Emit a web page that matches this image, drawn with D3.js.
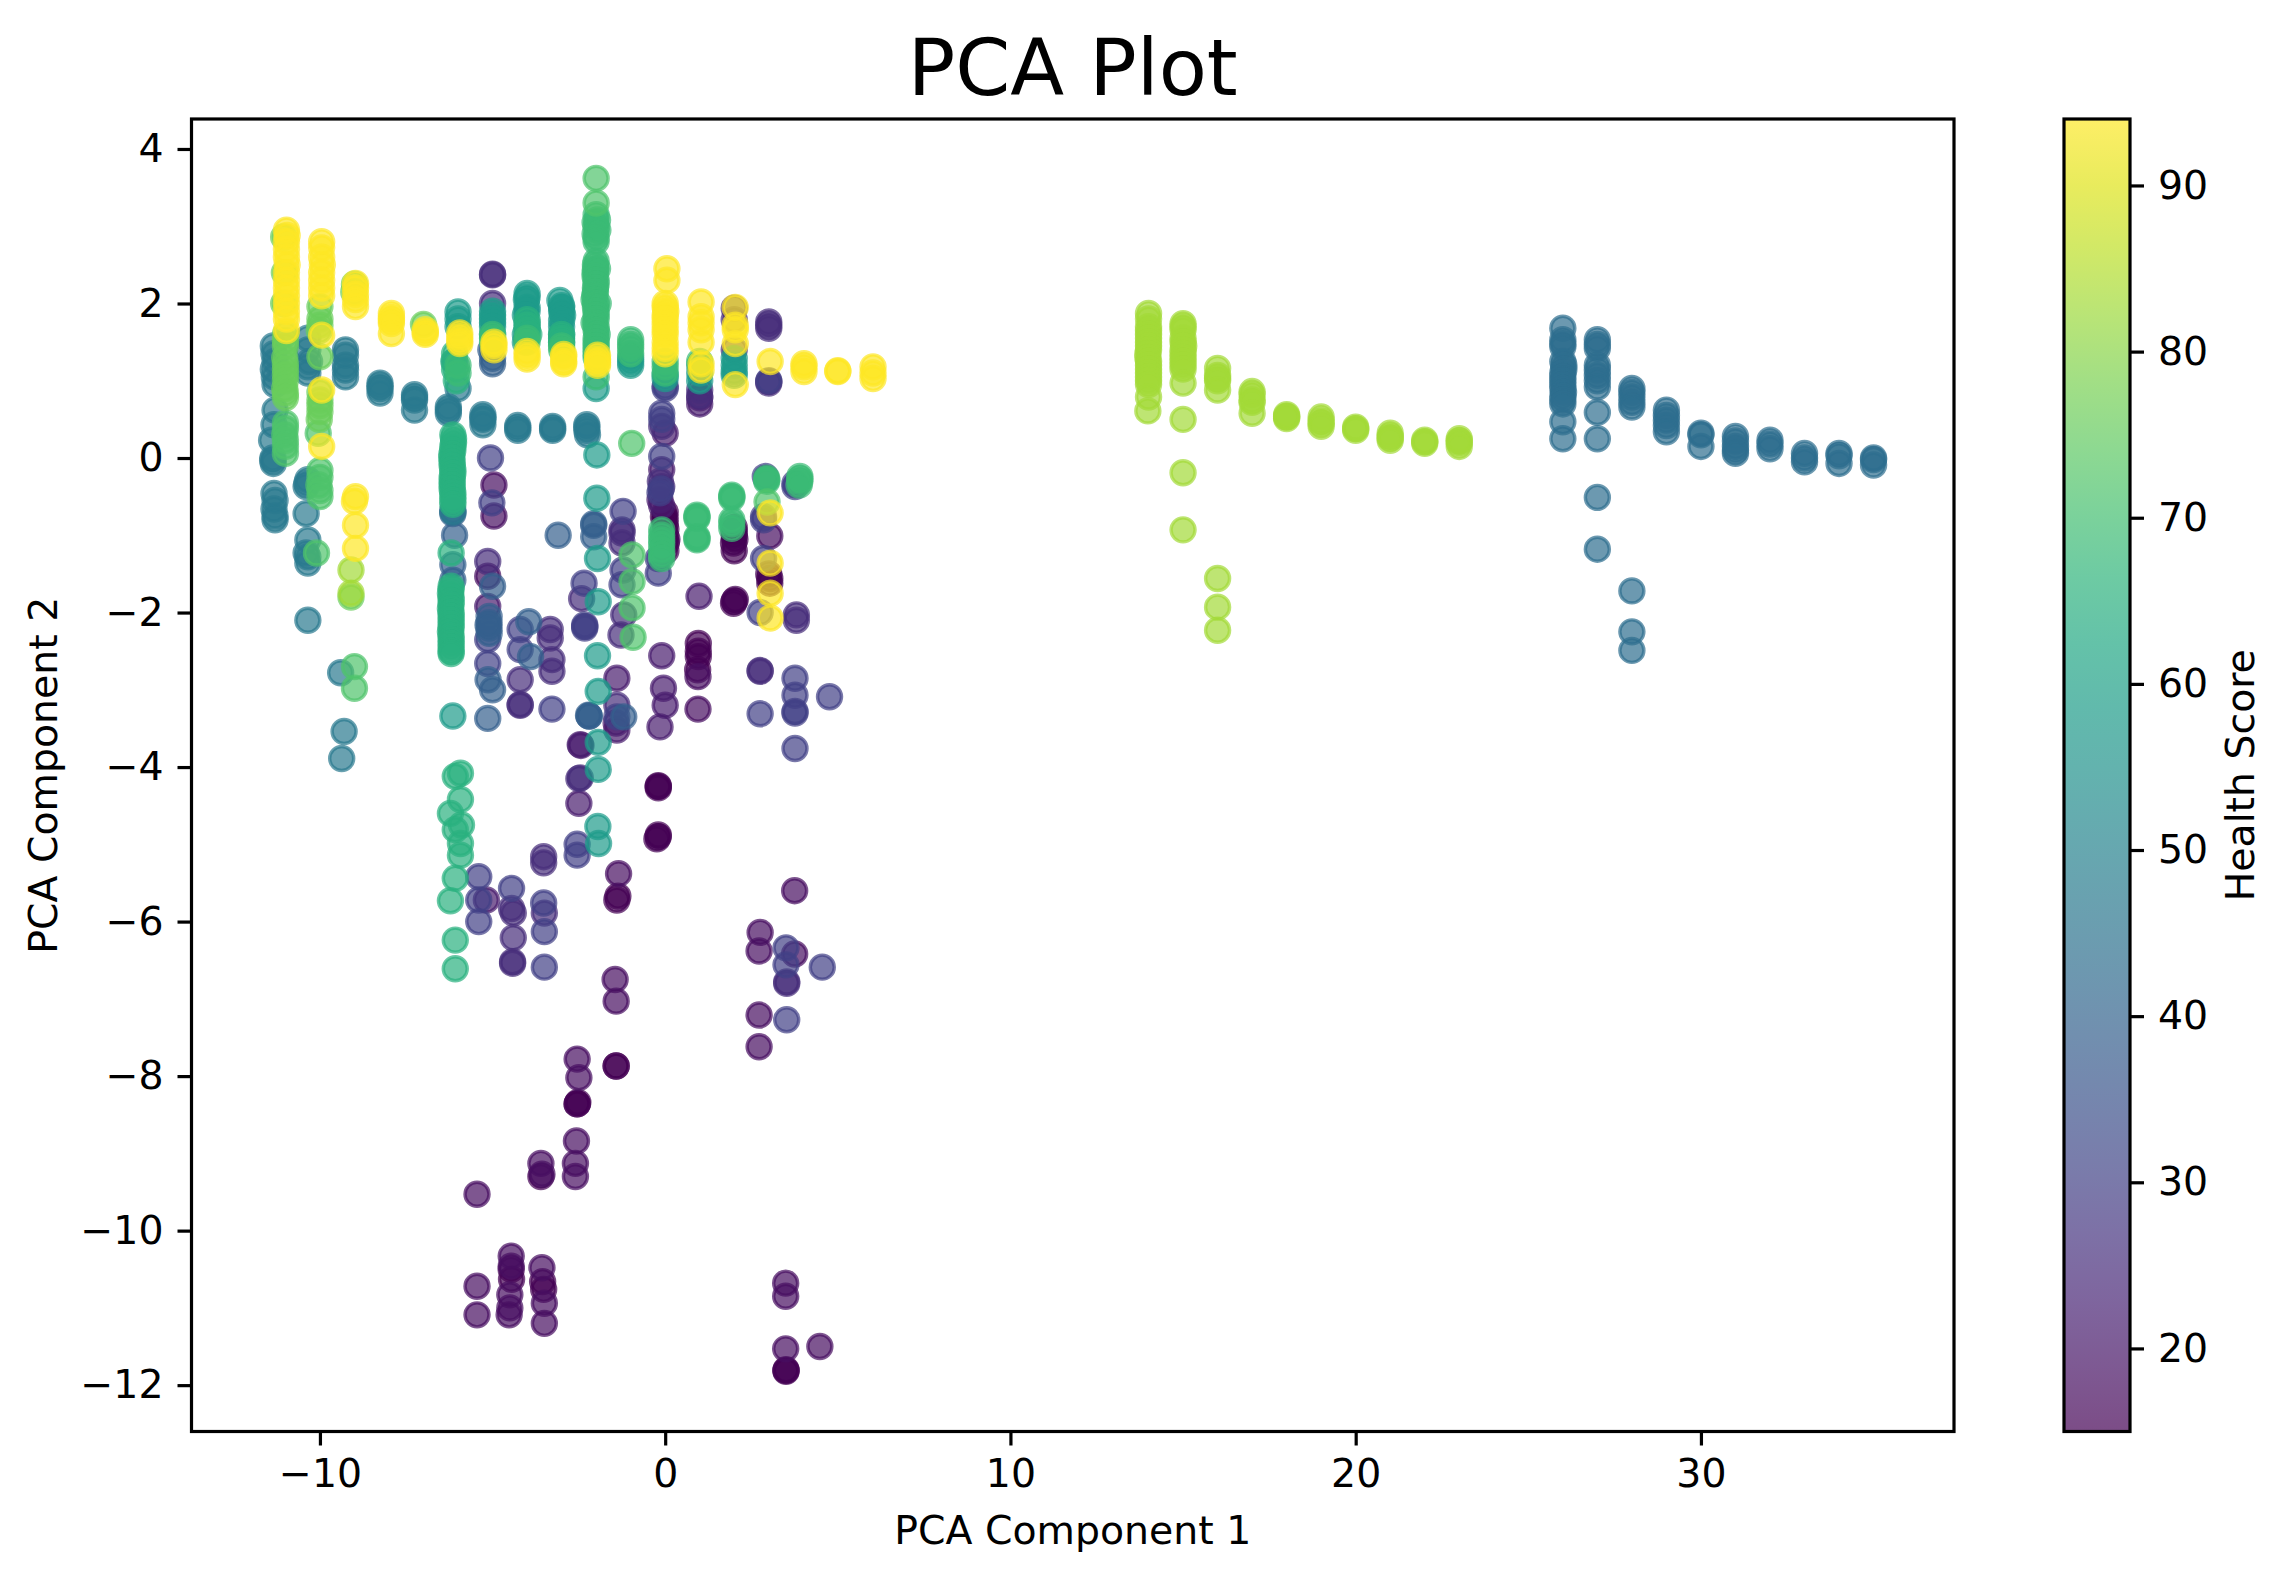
<!DOCTYPE html>
<html>
<head>
<meta charset="utf-8">
<script src="https://cdn.jsdelivr.net/npm/d3@7"></script>
<style>
  body { margin: 0; background: #fff; }
  text { font-family: "DejaVu Sans", sans-serif; fill: #000; }
</style>
</head>
<body>
<div id="chart"></div>
<script>
// points, one array per health score level, [pc1, pc2]
const pts15 = [[-0.2,-4.27],[-0.2,-4.25],[-0.2,-4.24],[-0.2,-4.88],[-0.24,-4.93],[-0.2,-4.9],[-0.05,-0.76],[0,-0.7],[0,-0.78],[0,-0.85],[0.02,-0.92],[0,-1],[0.03,-1.1],[0.02,-1.2],[0.05,-1.05],[2,-0.9],[2,-0.95],[2,-1],[1.98,-1.1],[2.02,-1.05],[2,-1.2],[3.03,-1.56],[3.03,-1.62],[3,-1.5],[2,-1.85],[2.03,-1.83],[1.98,-1.88],[0.96,-2.4],[0.96,-2.5],[0.96,-2.57],[0.94,-2.74],[-1.37,-5.67],[-1.4,-5.72],[-1.42,-7.87],[-1.42,-7.87],[-2.55,-8.36],[-2.55,-8.36],[-2.53,-8.34],[3.5,-11.82],[3.5,-11.8],[3.5,-11.81],[-4.46,-10.5],[-4.45,-10.63],[-3.55,-10.66],[-3.52,-10.76],[-3.6,-9.3]];
const pts18 = [[-4.96,-0.35],[-4.96,-0.75],[-5.14,-1.53],[0.95,-2.83],[0.95,-3.25],[3.03,-1.01],[3.75,-5.6],[2.75,-6.14],[2.72,-6.38],[3.75,-6.42],[2.72,-7.21],[2.72,-7.62],[-1.35,-5.38],[-1.45,-6.75],[-1.42,-7.03],[-2.55,-7.78],[-2.5,-8.02],[-2.57,-8.84],[-2.6,-9.13],[-2.6,-9.3],[-3.6,-9.13],[-3.57,-9.27],[-5.45,-9.53],[-5.45,-10.72],[-5.45,-11.09],[-4.46,-10.33],[-4.46,-10.46],[-4.5,-10.83],[-4.5,-11],[-4.52,-11.09],[-3.57,-10.48],[-3.5,-10.94],[-3.5,-11.2],[3.49,-10.68],[3.49,-10.85],[3.49,-11.53],[4.48,-11.5]];
const pts21 = [[-5.18,-5.72],[-5.14,-1.92],[-1.4,-2.85],[-1.4,-3.52],[-1.42,-3.43],[-2.46,-3.71],[-2.44,-3.72],[-2.5,-4.47],[-0.1,-2.56],[-0.05,-2.98],[0,-3.2],[-0.15,-3.48],[0,0.32],[-0.1,-0.15],[-0.15,-0.54],[-0.1,-0.62],[0.98,-1.79],[1,0.7],[1,0.78]];
const pts25 = [[-5.14,-1.34],[-4.2,-2.87],[-4.2,-3.19],[-4.2,-3.2],[-3.33,-2.22],[-3.33,-2.33],[-3.28,-2.61],[-3.28,-2.76],[-2.42,-1.82],[-1.25,-0.93],[-1.25,-0.97],[-1.25,-1.1],[-1.2,-2.03],[-1.28,-2.29],[-1.4,-3.2],[-2.46,-4.14],[-2.5,-4.15],[-4.45,-5.83],[-4.4,-5.89],[-4.4,-6.21],[-4.42,-6.52],[-4.42,-6.54],[-3.52,-5.16],[-3.52,-5.24],[-3.5,-5.89],[3.52,-6.8],[3.52,-6.78],[2.75,-2.75],[2.75,-2.76],[3.8,-2.03],[3.8,-2.1],[-0.1,0.41],[-0.1,-0.37],[-0.14,-0.3],[1,0.8],[1,0.88],[2,1.94],[2,1.79],[2,1.4],[3,1.76],[3,1.68],[3,1.72],[3,0.97],[3,0.99],[-5,2],[-5,2.38],[-5,2.37]];
const pts30 = [[-5.06,0],[-5.02,-0.58],[-5.14,-2.66],[-5.14,-2.35],[-4.2,-2.22],[-4.2,-2.48],[-3.28,-3.25],[-2.35,-1.62],[-2.33,-2.18],[-2.33,-2.2],[-2.33,-2.16],[-1.22,-0.69],[-1.22,-1.45],[-1.25,-1.64],[-1.4,-3.35],[-2.55,-5],[-2.55,-5.14],[-5.4,-5.42],[-5.4,-5.72],[-5.4,-6],[-4.45,-5.57],[-3.52,-5.76],[-3.5,-6.13],[-3.5,-6.59],[3.5,-6.34],[3.5,-6.56],[4.55,-6.59],[3.52,-7.27],[2.9,-0.24],[2.85,-0.76],[2.85,-0.8],[2.85,-1.3],[2.75,-2],[2.75,-3.31],[3.76,-0.37],[3.76,-0.33],[3.76,-2.85],[3.76,-3.07],[3.76,-3.28],[3.76,-3.3],[4.76,-3.09],[3.76,-3.76],[-0.12,-0.4],[-0.2,-1.49],[0,0.9],[0,0.93],[-0.1,0.58],[-0.1,0.5],[-0.1,0.02],[-0.15,-0.45],[-0.2,-1.3],[3,1]];
const pts39 = [[-3.1,-1],[-2.07,-0.87],[-2.07,-0.85],[-2.07,-1.02],[-5.1,-2.05],[-5.1,-2.13],[-5.1,-2.2],[-5.1,-2.27],[-5.13,-2.16],[-5,-1.66],[-5.13,-2.87],[-5,-3],[-5.14,-3.37],[-3.95,-2.12],[-3.9,-2.57],[-2.2,-3.34],[-2.2,-3.34],[-2.22,-3.33],[-1.2,-3.35],[-6.1,-1],[-6.15,-1.38],[-6.15,-1.58],[-5,1.29],[-5,1.22],[-5.05,1.4],[-6.15,-0.72],[-6.15,-0.68]];
const pts43 = [[26,1.68],[26,1.53],[26,1.48],[26,1.44],[26,1.25],[26.03,1.2],[26.03,1.15],[26,1.1],[26,1.05],[26,1],[26,0.95],[26,0.9],[26.02,0.85],[26,0.8],[26,0.75],[26,0.7],[26,0.47],[26,0.25],[27,1.53],[27,1.47],[27,1.42],[27,1.2],[27,1.14],[27,1.07],[27,1],[27,0.92],[27,0.59],[27,0.25],[27,-0.51],[27,-1.18],[28,0.9],[28,0.85],[28,0.79],[28,0.72],[28,0.66],[28,-1.72],[28,-2.25],[28,-2.49],[29,0.62],[29,0.55],[29,0.49],[29,0.42],[29,0.34],[30,0.32],[30,0.3],[30,0.15],[31,0.28],[31,0.22],[31,0.15],[31,0.1],[31,0.06],[32,0.23],[32,0.18],[32,0.12],[33,0.06],[33,0],[33,-0.05],[34,0.06],[34,0.03],[34,-0.07],[35,0],[35,-0.02],[35,-0.09]];
const pts47 = [[-11.35,1.45],[-11.33,1.35],[-11.3,1.25],[-11.35,1.15],[-11.32,1.05],[-11.3,0.95],[-11.3,0.62],[-11.33,0.43],[-11.4,0.23],[-11.35,-0.07],[-11.37,-0.03],[-11.36,0],[-11.33,-0.46],[-11.3,-0.55],[-11.33,-0.66],[-11.3,-0.75],[-11.3,-0.8],[-10.35,1.55],[-10.35,1.4],[-10.3,1.25],[-10.35,1.1],[-10.35,1.18],[-10.35,-0.28],[-10.4,-0.37],[-10.38,-0.33],[-10.4,-0.72],[-10.35,-1.06],[-10.4,-1.23],[-10.35,-1.36],[-10.35,-1.28],[-10.35,-2.1],[-9.26,1.4],[-9.26,1.33],[-9.26,1.14],[-9.26,1.2],[-9.26,1.05],[-8.26,0.97],[-8.26,0.9],[-8.26,0.93],[-8.26,0.84],[-7.26,0.82],[-7.26,0.78],[-7.26,0.75],[-7.26,0.62],[-6.28,0.62],[-6.28,0.66],[-6.28,0.58],[-5.28,0.56],[-5.28,0.52],[-5.28,0.5],[-5.28,0.43],[-4.27,0.42],[-4.27,0.39],[-4.27,0.36],[-3.26,0.41],[-3.26,0.38],[-3.26,0.36],[-2.27,0.36],[-2.27,0.43],[-2.27,0.4],[-2.25,0.3],[-9.4,-2.78],[-9.3,-3.54],[-9.37,-3.89],[-6,0.9],[-6.15,-0.7],[-6.1,1.25]];
const pts58 = [[-2,0.9],[-1.98,0.04],[-1.98,-0.52],[-1.96,-1.3],[-1.94,-1.86],[-1.96,-2.56],[-1.94,-3.02],[-1.94,-3.68],[-1.94,-4.03],[-1.95,-4.77],[-1.93,-4.99],[0,1.03],[0,1.08],[-1,1.2],[-1,1.25],[-1,1.3],[1,1.2],[1,1],[1,1.1],[2,1.29],[2,1.2],[2,1.07],[2,1.12],[-6.15,-3.34],[-5,1.9],[-5,1.85],[-5,1.8],[-5,1.75],[-5,1.7],[-5,1.6],[-6,1.89],[-6,1.8],[-6,1.7],[-4,2.13],[-4,2.08],[-4.02,2.05],[-4,1.95],[-4,1.9],[-4.05,1.85],[-4,1.75],[-4,1.68],[-4.05,1.6],[-4.05,1.5],[-3.05,2.04],[-3,1.97],[-3,1.95],[-3,1.9],[-2.97,1.85],[-3,1.78],[-3,1.7],[-3,1.6],[-3,1.5]];
const pts65 = [[-6.1,1.35],[-6.12,1.25],[-6.1,1.15],[-6.05,1],[-6.15,0.3],[-6.13,0.25],[-6.13,0.2],[-6.15,0.15],[-6.15,0.1],[-6.18,0.05],[-6.18,0],[-6.17,-0.05],[-6.17,-0.1],[-6.15,-0.15],[-6.15,-0.2],[-6.17,-0.25],[-6.17,-0.3],[-6.17,-0.35],[-6.17,-0.4],[-6.15,-0.45],[-6.15,-0.5],[-6.15,-0.55],[-6.15,-0.6],[-6.2,-1.23],[-6.2,-1.66],[-6.2,-1.7],[-6.22,-1.75],[-6.2,-1.8],[-6.2,-1.85],[-6.2,-1.9],[-6.22,-1.95],[-6.2,-2],[-6.2,-2.05],[-6.2,-2.1],[-6.2,-2.15],[-6.2,-2.2],[-6.22,-2.25],[-6.2,-2.3],[-6.2,-2.35],[-6.2,-2.4],[-6.2,-2.45],[-6.2,-2.5],[-6.2,-2.53],[-4,1.79],[-4,1.72],[-4,1.65],[-3.95,1.6],[-3,1.6],[-3,1.55],[-3,1.5],[-5.93,-4.08],[-6.08,-4.12],[-5.93,-4.42],[-6.22,-4.6],[-5.9,-4.75],[-6.08,-4.81],[-5.93,-4.99],[-5.93,-5.14],[-6.08,-5.44],[-6.22,-5.73],[-6.08,-6.24],[-6.08,-6.61]];
const pts69 = [[-2,3.15],[-2.03,3.05],[-2,3],[-1.96,3.08],[-2.03,2.9],[-2,2.85],[-2,2.8],[-1.95,2.95],[-2,2.55],[-2.02,2.5],[-2.02,2.45],[-2.03,2.4],[-2.03,2.35],[-1.96,2.45],[-2,2.3],[-2,2.25],[-2.02,2.2],[-2.02,2.15],[-2.04,2.1],[-2.06,2.05],[-2.02,2],[-2.02,1.95],[-1.94,2],[-2,1.9],[-2,1.85],[-2,1.8],[-2.06,1.75],[-2,1.7],[-2,1.65],[-1.97,1.6],[-2,1.55],[-2,1.5],[-2,1.45],[-2,1.4],[-2,1.35],[-2,1.3],[-2,1.05],[-1,1.53],[-1,1.47],[-1,1.42],[-1,1.35],[0,1.25],[0,1.18],[0,1.1],[1,1.25],[-0.1,-0.93],[-0.1,-1],[-0.1,-1.06],[-0.1,-1.12],[-0.1,-1.19],[-0.1,-1.25],[-0.1,-1.3],[0.92,-0.74],[0.92,-0.76],[0.92,-0.78],[0.92,-1.06],[0.92,-1.04],[0.92,-1.02],[1.93,-0.5],[1.93,-0.48],[1.93,-0.52],[1.93,-0.8],[1.93,-0.85],[1.93,-0.91],[2.94,-0.26],[2.94,-0.28],[2.94,-0.3],[3.9,-0.24],[3.9,-0.3],[3.9,-0.27],[3.88,-0.35],[-5,1.5],[-5,1.55],[-5,1.6],[-4,1.5],[-4,1.55],[-3,1.45],[-3,1.4],[-6,1.2],[-6,1.1]];
const pts72 = [[-2,3.62],[-2,3.3],[-0.97,0.19],[-0.96,-1.255],[-0.96,-1.6],[-0.96,-1.94],[-0.93,-2.32],[2.95,-0.57],[-9,-2.7],[-9,-2.98],[-11,0.45],[-11,0.38],[-11.02,0.3],[-11,0.23],[-11,0.15],[-11,0.06],[-10,-0.16],[-10,-0.25],[-10.03,-0.35],[-10,-0.42],[-10,-0.5],[-10.05,0.32],[-10.1,-1.23]];
const pts76 = [[-11.05,2.86],[-11.03,2.4],[-11.05,2],[-11,1.6],[-11,1.52],[-11,1.45],[-11.02,1.3],[-11,1.22],[-11,1.15],[-11,1.08],[-11,1],[-11.02,0.9],[-11,0.84],[-11,0.78],[-10,1.96],[-10,1.8],[-10,1.72],[-10.02,1.65],[-10,1.31],[-10,0.85],[-10,0.75],[-10,0.68],[-10,0.6],[-10.02,0.5],[-9,2.25],[-9.02,2.15],[-7,1.73],[-9.1,-1.8]];
const pts83 = [[14,1.87],[14,1.8],[14,1.7],[14,1.65],[14,1.6],[14,1.55],[14,1.5],[14,1.45],[14,1.4],[13.98,1.35],[13.98,1.3],[14,1.25],[14,1.2],[14,1.15],[14,1.1],[14,1.05],[14,1],[14,0.95],[14,0.79],[13.98,0.61],[15,1.74],[15,1.7],[15,1.66],[15,1.55],[15,1.5],[15.02,1.45],[15,1.4],[15,1.35],[15,1.3],[15,1.25],[15,1.2],[15,1.15],[15,0.97],[15,0.5],[15,-0.19],[15,-0.93],[16,1.16],[16,1.07],[16,1.03],[16,1],[16,0.88],[16,-1.56],[16,-1.93],[16,-2.23],[17,0.86],[17,0.82],[17,0.75],[17,0.72],[17,0.58],[18,0.56],[18,0.53],[18,0.51],[18,0.54],[19,0.53],[19,0.48],[19,0.45],[19,0.41],[20,0.38],[20,0.36],[20,0.4],[21,0.32],[21,0.28],[21,0.26],[21,0.23],[22,0.23],[22,0.21],[22,0.19],[23,0.25],[23,0.2],[23,0.22],[23,0.15],[-9.1,-1.45],[-9.1,-1.75]];
const pts94 = [[-10.97,2.95],[-10.95,2.88],[-10.97,2.8],[-10.97,2.7],[-10.97,2.6],[-10.95,2.5],[-10.97,2.4],[-10.97,2.3],[-10.97,2.2],[-10.97,2.1],[-10.97,2],[-10.97,1.9],[-10.97,1.8],[-10.97,1.65],[-9.95,2.8],[-9.95,2.72],[-9.95,2.6],[-9.93,2.5],[-9.95,2.4],[-9.95,2.3],[-9.95,2.2],[-9.95,2.1],[-9.95,1.59],[-9.95,0.88],[-9.95,0.15],[-8.97,2.26],[-8.97,2.2],[-8.97,2.12],[-8.97,2.05],[-8.97,1.96],[-8.97,-0.5],[-9,-0.56],[-8.97,-0.87],[-8.97,-1.17],[-7.93,1.87],[-7.93,1.82],[-7.93,1.78],[-7.93,1.74],[-7.93,1.61],[-6.95,1.66],[-6.95,1.63],[-6.95,1.6],[-5.95,1.62],[-5.95,1.57],[-5.95,1.52],[-5.95,1.48],[-4.96,1.5],[-4.96,1.46],[-4.96,1.4],[-4,1.38],[-4,1.33],[-4,1.28],[-2.94,1.34],[-2.94,1.31],[-2.94,1.25],[-2.94,1.22],[-1.96,1.33],[-1.96,1.28],[-1.96,1.24],[-1.96,1.2],[0.05,2.45],[0.05,2.3],[0,2],[0,1.95],[0.02,1.9],[0,1.85],[0,1.8],[0,1.73],[0,1.66],[0,1.6],[0,1.5],[0,1.42],[0,1.35],[1.04,2.02],[1.04,1.83],[1.04,1.75],[1.04,1.66],[1.04,1.5],[1.04,1.22],[1.04,1.14],[2.03,1.95],[2.03,1.72],[2.03,1.66],[2.03,1.48],[2.03,0.95],[3.04,1.25],[4.02,1.22],[4.02,1.18],[4.02,1.12],[5,1.13],[5,1.12],[6.02,1.18],[6.02,1.1],[6.02,1.03],[3.04,-0.71],[3.04,-1.36],[3.04,-1.75],[3.04,-2.07]];

const scoreLevels = [15, 18, 21, 25, 30, 39, 43, 47, 58, 65, 69, 72, 76, 83, 94];
const pointLevels = [pts15, pts18, pts21, pts25, pts30, pts39, pts43, pts47, pts58, pts65, pts69, pts72, pts76, pts83, pts94];

const xTicks = [-10, 0, 10, 20, 30];
const yTicks = [-12, -10, -8, -6, -4, -2, 0, 2, 4];
const scoreTicks = [20, 30, 40, 50, 60, 70, 80, 90];
const xDomain = [-13.72, 37.33];
const yDomain = [-12.6, 4.388];
const scoreDomain = [15, 94];

const width = 2277, height = 1582;
const plot = { left: 191.5, right: 1954, top: 119, bottom: 1431.5 };
const bar = { left: 2064, right: 2130 };
const fontSize = 39.4, tickLen = 14, lineW = 3.2;

const svg = d3.select("#chart").append("svg")
    .attr("width", width)
    .attr("height", height);

const x = d3.scaleLinear().domain(xDomain).range([plot.left, plot.right]);
const y = d3.scaleLinear().domain(yDomain).range([plot.bottom, plot.top]);
const score = d3.scaleLinear().domain(scoreDomain).range([plot.bottom, plot.top]);
const color = d3.scaleSequential(d3.interpolateViridis).domain(scoreDomain);

// points, low scores first so the yellow ones end up on top
scoreLevels.forEach((level, i) => {
  svg.append("g").selectAll("circle")
    .data(pointLevels[i])
    .enter()
    .append("circle")
    .attr("cx", d => x(d[0]))
    .attr("cy", d => y(d[1]))
    .attr("r", 12)
    .attr("fill", color(level))
    .attr("fill-opacity", 0.7)
    .attr("stroke", color(level))
    .attr("stroke-opacity", 0.7)
    .attr("stroke-width", 3.4);
});

function styleAxis(g) {
  g.selectAll("text").style("font-size", fontSize + "px").style("font-family", '"DejaVu Sans"').attr("fill", "#000");
  g.selectAll("line").attr("stroke-width", lineW).attr("stroke", "#000");
  g.select(".domain").remove();
}

svg.append("g")
    .attr("transform", `translate(0,${plot.bottom})`)
    .call(d3.axisBottom(x).tickValues(xTicks).tickSize(tickLen).tickPadding(14))
    .call(styleAxis);

svg.append("g")
    .attr("transform", `translate(${plot.left},0)`)
    .call(d3.axisLeft(y).tickValues(yTicks).tickSize(tickLen).tickPadding(14))
    .call(styleAxis);

svg.append("rect")
    .attr("x", plot.left)
    .attr("y", plot.top)
    .attr("width", plot.right - plot.left)
    .attr("height", plot.bottom - plot.top)
    .attr("fill", "none")
    .attr("stroke", "#000")
    .attr("stroke-width", lineW);

// colorbar, same alpha as the points
const grad = svg.append("defs").append("linearGradient")
    .attr("id", "viridisBar")
    .attr("x1", 0).attr("y1", 1).attr("x2", 0).attr("y2", 0);
d3.range(0, 1.001, 0.05).forEach(t => {
  grad.append("stop")
    .attr("offset", t)
    .attr("stop-color", d3.interpolateViridis(t));
});

svg.append("rect")
    .attr("x", bar.left)
    .attr("y", plot.top)
    .attr("width", bar.right - bar.left)
    .attr("height", plot.bottom - plot.top)
    .attr("fill", "url(#viridisBar)")
    .attr("fill-opacity", 0.7)
    .attr("stroke", "none");

svg.append("rect")
    .attr("x", bar.left)
    .attr("y", plot.top)
    .attr("width", bar.right - bar.left)
    .attr("height", plot.bottom - plot.top)
    .attr("fill", "none")
    .attr("stroke", "#000")
    .attr("stroke-width", lineW);

svg.append("g")
    .attr("transform", `translate(${bar.right},0)`)
    .call(d3.axisRight(score).tickValues(scoreTicks).tickSize(tickLen).tickPadding(14))
    .call(styleAxis);

// titles
svg.append("text")
    .attr("x", (plot.left + plot.right) / 2)
    .attr("y", 95)
    .attr("text-anchor", "middle")
    .style("font-size", "78.8px")
    .text("PCA Plot");

svg.append("text")
    .attr("x", (plot.left + plot.right) / 2)
    .attr("y", 1544)
    .attr("text-anchor", "middle")
    .style("font-size", "39.4px")
    .text("PCA Component 1");

svg.append("text")
    .attr("transform", `translate(57,${(plot.top + plot.bottom) / 2}) rotate(-90)`)
    .attr("text-anchor", "middle")
    .style("font-size", "39.4px")
    .text("PCA Component 2");

svg.append("text")
    .attr("transform", `translate(2254,${(plot.top + plot.bottom) / 2}) rotate(-90)`)
    .attr("text-anchor", "middle")
    .style("font-size", "39.4px")
    .text("Health Score");
</script>
</body>
</html>
